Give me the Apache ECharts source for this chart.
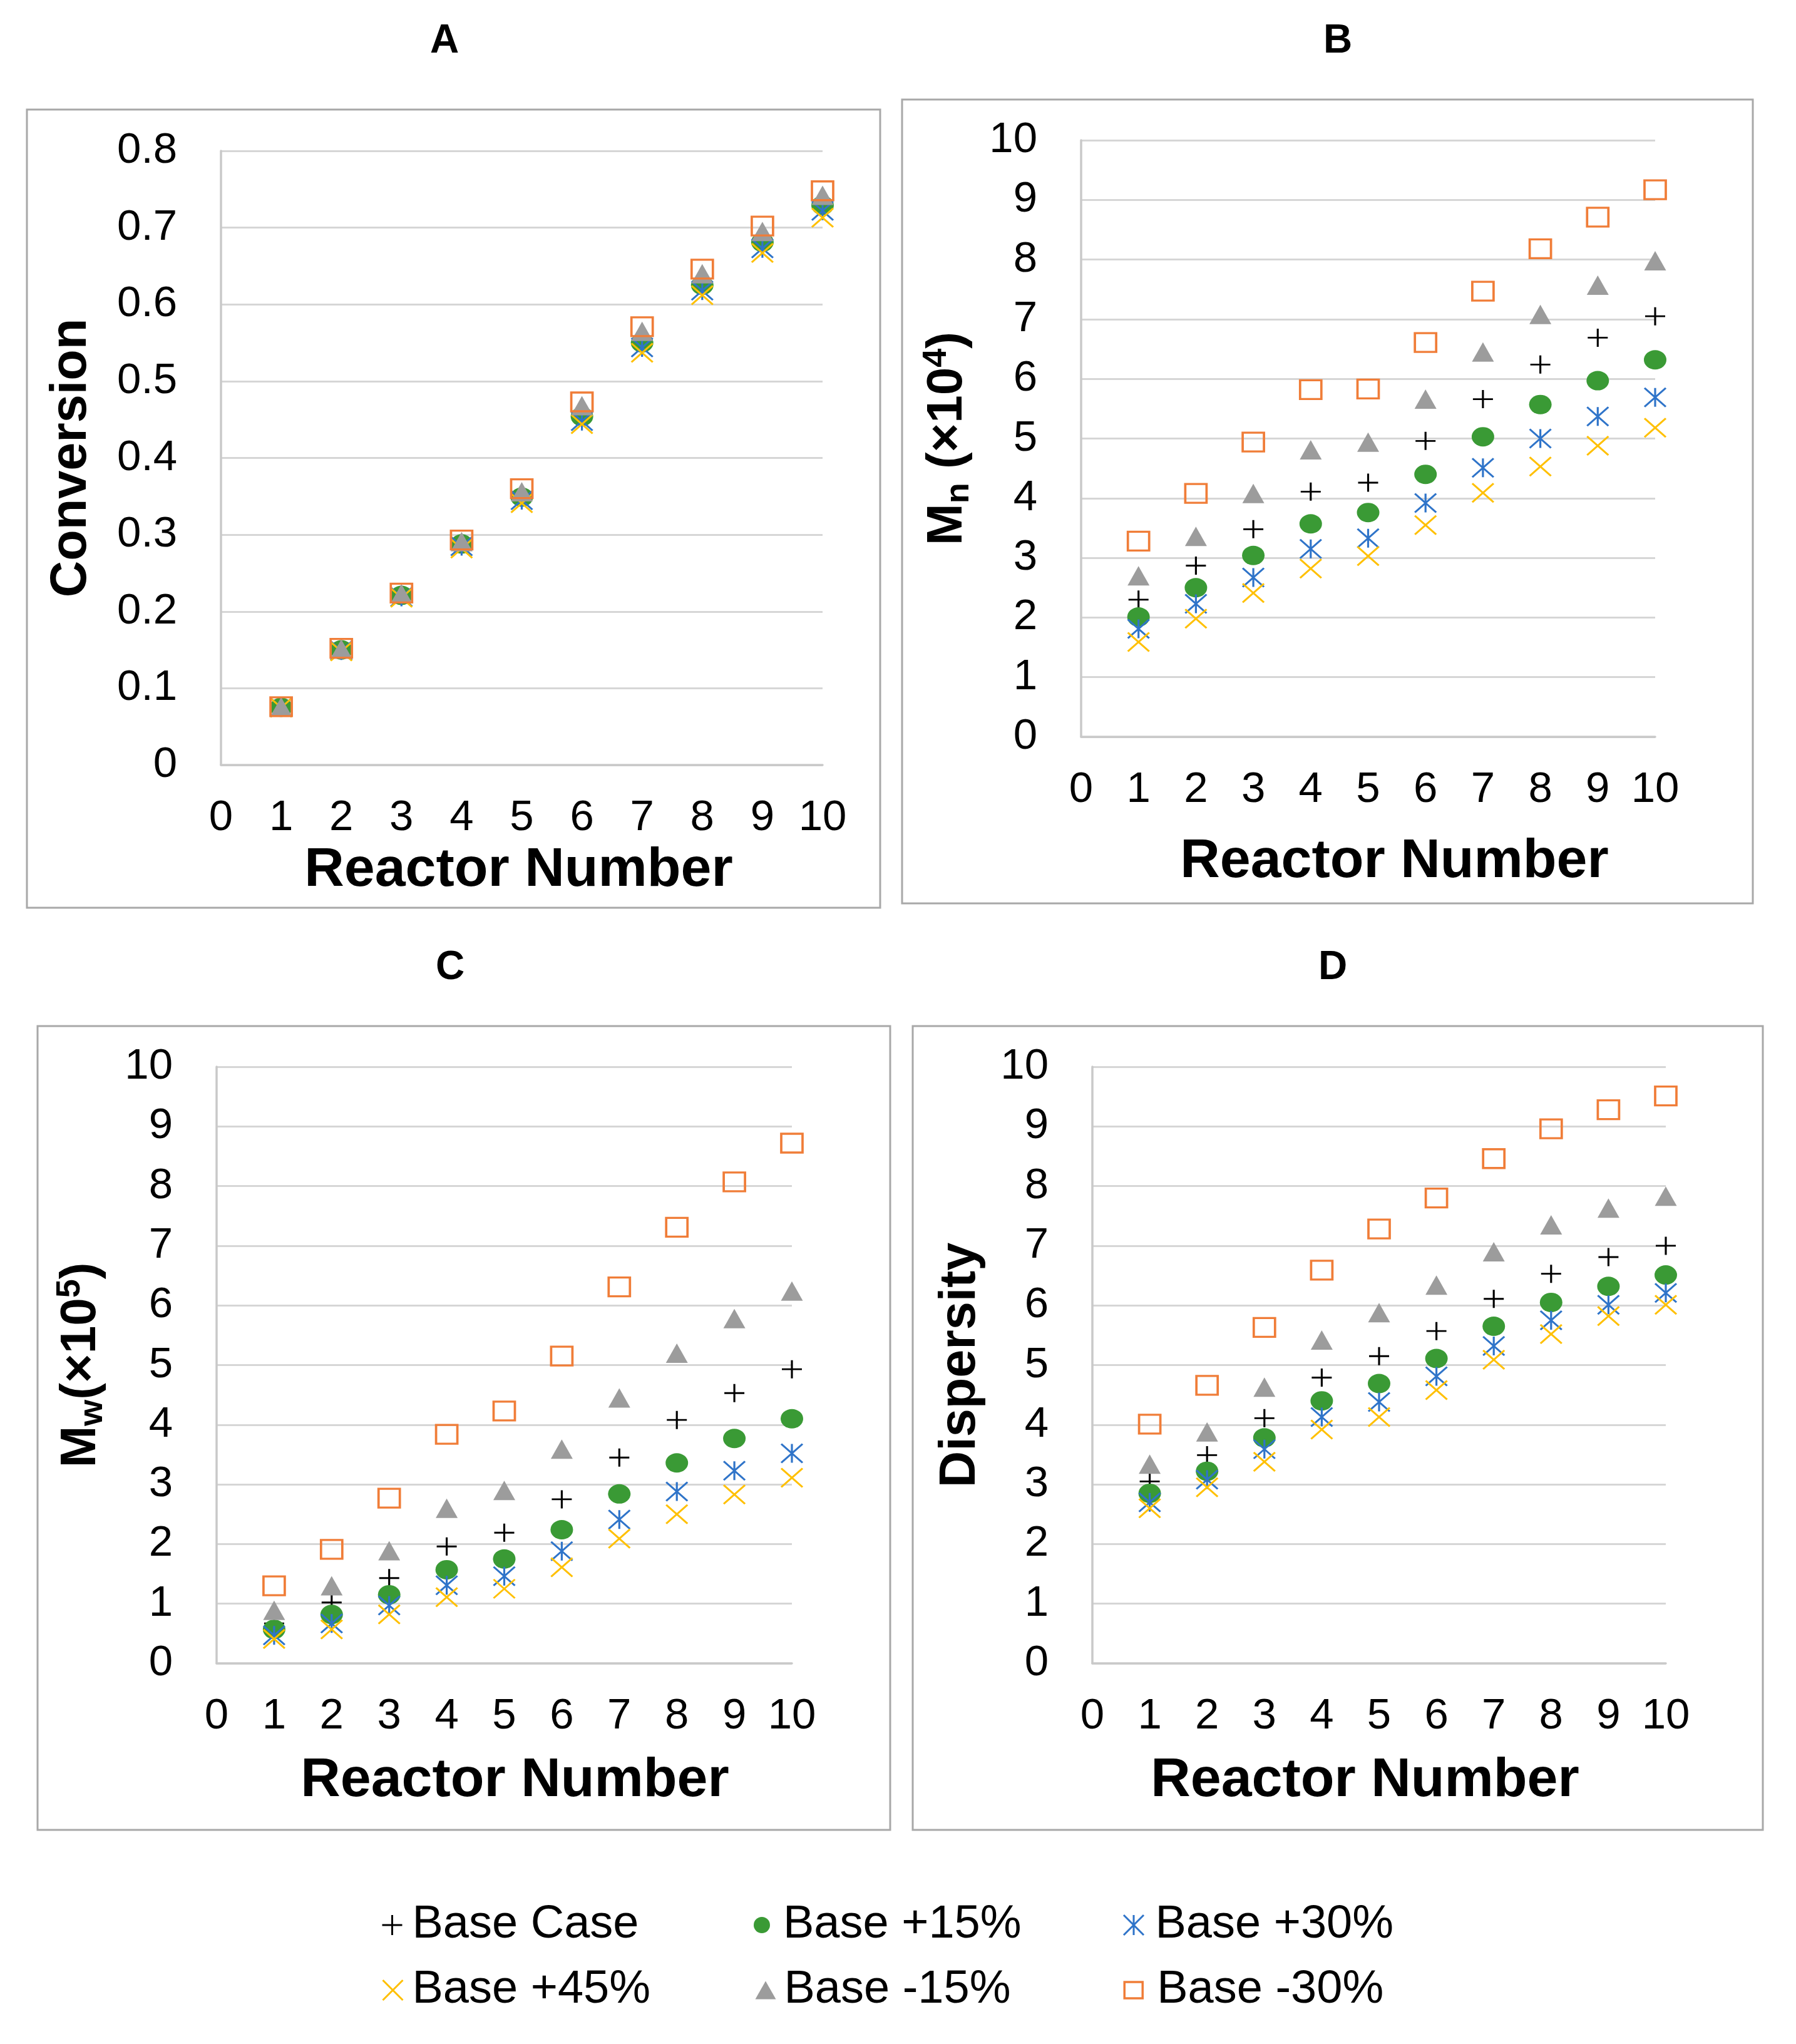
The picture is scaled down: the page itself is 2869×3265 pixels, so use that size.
<!DOCTYPE html>
<html>
<head>
<meta charset="utf-8">
<script src="https://cdn.jsdelivr.net/npm/echarts@6/dist/echarts.min.js"></script>
<style>html,body{margin:0;padding:0;background:#fff}#c{width:2869px;height:3265px}</style>
</head>
<body>
<div id="c"></div>
<script>
// ---------- data ----------
const reactors = [1, 2, 3, 4, 5, 6, 7, 8, 9, 10];
const seriesNames = ['Base Case', 'Base +15%', 'Base +30%', 'Base +45%', 'Base -15%', 'Base -30%'];
const panelLetters = ['A', 'B', 'C', 'D'];

// Panel A: Conversion
const convBase = [0.0755, 0.1505, 0.222, 0.289, 0.352, 0.458, 0.555, 0.630, 0.686, 0.733];
const convP15  = [0.0752, 0.150, 0.221, 0.288, 0.349, 0.454, 0.550, 0.625, 0.681, 0.729];
const convP30  = [0.0750, 0.149, 0.219, 0.285, 0.345, 0.448, 0.544, 0.618, 0.673, 0.722];
const convP45  = [0.0748, 0.148, 0.218, 0.282, 0.341, 0.444, 0.537, 0.612, 0.667, 0.713];
const convM15  = [0.0758, 0.151, 0.223, 0.291, 0.356, 0.468, 0.565, 0.640, 0.695, 0.742];
const convM30  = [0.0760, 0.152, 0.224, 0.293, 0.360, 0.473, 0.571, 0.646, 0.702, 0.748];

// Panel B: Mn (x10^4)
const mnBase = [2.30, 2.87, 3.48, 4.11, 4.26, 4.96, 5.66, 6.24, 6.69, 7.05];
const mnP15  = [2.01, 2.50, 3.04, 3.57, 3.76, 4.40, 5.03, 5.57, 5.97, 6.32];
const mnP30  = [1.81, 2.23, 2.67, 3.15, 3.33, 3.92, 4.51, 5.00, 5.37, 5.69];
const mnP45  = [1.59, 1.98, 2.41, 2.82, 3.03, 3.55, 4.09, 4.53, 4.88, 5.18];
const mnM15  = [2.70, 3.36, 4.08, 4.81, 4.94, 5.66, 6.45, 7.08, 7.57, 7.98];
const mnM30  = [3.28, 4.08, 4.94, 5.82, 5.83, 6.61, 7.47, 8.18, 8.71, 9.17];

// Panel C: Mw (x10^5)
const mwBase = [0.67, 1.02, 1.43, 1.96, 2.19, 2.75, 3.45, 4.08, 4.53, 4.93];
const mwP15  = [0.57, 0.82, 1.15, 1.57, 1.75, 2.24, 2.84, 3.36, 3.77, 4.10];
const mwP30  = [0.47, 0.67, 0.97, 1.31, 1.46, 1.88, 2.41, 2.88, 3.23, 3.52];
const mwP45  = [0.41, 0.57, 0.82, 1.11, 1.25, 1.61, 2.09, 2.50, 2.83, 3.11];
const mwM15  = [0.89, 1.30, 1.89, 2.60, 2.90, 3.59, 4.45, 5.20, 5.78, 6.24];
const mwM30  = [1.30, 1.91, 2.77, 3.84, 4.23, 5.15, 6.31, 7.31, 8.07, 8.72];

// Panel D: Dispersity
const dispBase = [3.05, 3.49, 4.11, 4.79, 5.15, 5.57, 6.11, 6.53, 6.81, 7.00];
const dispP15  = [2.85, 3.22, 3.78, 4.40, 4.69, 5.11, 5.65, 6.05, 6.32, 6.51];
const dispP30  = [2.70, 3.08, 3.59, 4.13, 4.38, 4.81, 5.32, 5.75, 6.01, 6.21];
const dispP45  = [2.60, 2.95, 3.38, 3.92, 4.13, 4.58, 5.09, 5.52, 5.82, 6.01];
const dispM15  = [3.34, 3.88, 4.63, 5.42, 5.88, 6.34, 6.90, 7.35, 7.63, 7.83];
const dispM30  = [4.01, 4.66, 5.63, 6.59, 7.28, 7.80, 8.46, 8.96, 9.28, 9.51];

const xAxisTitle = 'Reactor Number';
const yAxisTitles = [
  'Conversion',
  '{m|M}{s|n}{m| (×10}{p|4}{m|)}',
  '{m|M}{s|w}{m|(×10}{p|5}{m|)}',
  'Dispersity'
];

// ---------- styling ----------
const FONT = '"Liberation Sans", Arial, Helvetica, sans-serif';
const PLUS = 'path://M0,5L10,5M5,0L5,10';
const CROSS = 'path://M0,0L10,10M10,0L0,10';
const STAR = 'path://M0,0L10,10M10,0L0,10M5,0L5,10';

const markerStyles = [
  { symbol: PLUS, size: [32, 29], itemStyle: { color: '#000000', borderColor: '#000000', borderWidth: 3, opacity: 1 } },
  { symbol: 'circle', size: [36, 31], itemStyle: { color: '#3A9A35', opacity: 1 } },
  { symbol: STAR, size: [34, 30], itemStyle: { color: '#2F74C9', borderColor: '#2F74C9', borderWidth: 3, opacity: 1 } },
  { symbol: CROSS, size: [34, 30], itemStyle: { color: '#FFC000', borderColor: '#FFC000', borderWidth: 3, opacity: 1 } },
  { symbol: 'triangle', size: [35, 31], itemStyle: { color: '#9C9C9C', opacity: 1 } },
  { symbol: 'rect', size: [34, 30], itemStyle: { color: 'rgba(255,255,255,0)', borderColor: '#F07D38', borderWidth: 3.5, opacity: 1 } }
];

const panelData = [
  [convBase, convP15, convP30, convP45, convM15, convM30],
  [mnBase, mnP15, mnP30, mnP45, mnM15, mnM30],
  [mwBase, mwP15, mwP30, mwP45, mwM15, mwM30],
  [dispBase, dispP15, dispP30, dispP45, dispM15, dispM30]
];
const yScales = [
  { max: 0.8, interval: 0.1 },
  { max: 10, interval: 1 },
  { max: 10, interval: 1 },
  { max: 10, interval: 1 }
];

const grids = [
  { left: 353, top: 241, width: 961, height: 981 },
  { left: 1727, top: 224, width: 917, height: 953 },
  { left: 346, top: 1704, width: 919, height: 953 },
  { left: 1745, top: 1704, width: 916, height: 953 }
];
const xNameGap = [125, 156, 144, 144];
const xNamePad = [[0, 10, 0, 0], [0, 0, 0, 84], [0, 0, 0, 34], [0, 45, 0, 0]];
const yNameGap = [198, 168, 171, 170];
const frames = [
  [43, 175, 1363, 1275],
  [1441, 159, 1359, 1284],
  [60, 1639, 1362, 1284],
  [1458, 1639, 1358, 1284]
];
const titlePos = [[710, 66], [2137, 66], [719, 1546], [2129, 1546]];

const richName = {
  m: { fontSize: 80, fontWeight: 'bold', fontFamily: FONT, color: '#000', lineHeight: 90 },
  s: { fontSize: 54, fontWeight: 'bold', fontFamily: FONT, color: '#000', lineHeight: 54, verticalAlign: 'bottom' },
  p: { fontSize: 54, fontWeight: 'bold', fontFamily: FONT, color: '#000', lineHeight: 54, verticalAlign: 'top' }
};

const xAxes = [], yAxes = [], series = [];
for (let g = 0; g < 4; g++) {
  xAxes.push({
    type: 'value', gridIndex: g, min: 0, max: 10, interval: 1,
    name: xAxisTitle, nameLocation: 'middle', nameGap: xNameGap[g],
    nameTextStyle: { fontSize: 88, fontWeight: 'bold', fontFamily: FONT, color: '#000', padding: xNamePad[g] },
    axisLine: { show: true, lineStyle: { color: '#C9C9C9', width: 3.5 } },
    axisTick: { show: false },
    splitLine: { show: false },
    axisLabel: { fontSize: 69, fontFamily: FONT, color: '#000', margin: 50 }
  });
  yAxes.push({
    type: 'value', gridIndex: g, min: 0, max: yScales[g].max, interval: yScales[g].interval,
    name: yAxisTitles[g], nameLocation: 'middle', nameRotate: 90, nameGap: yNameGap[g],
    nameTextStyle: { fontSize: 81, fontWeight: 'bold', fontFamily: FONT, color: '#000', rich: richName },
    axisLine: { show: true, lineStyle: { color: '#C9C9C9', width: 3.5 } },
    axisTick: { show: false },
    splitLine: { show: true, lineStyle: { color: '#D6D6D6', width: 3 } },
    axisLabel: { fontSize: 69, fontFamily: FONT, color: '#000', margin: 70 }
  });
  for (let s = 0; s < 6; s++) {
    const vals = panelData[g][s];
    series.push({
      type: 'scatter', name: seriesNames[s], xAxisIndex: g, yAxisIndex: g,
      data: reactors.map((r, i) => [r, vals[i]]),
      symbol: markerStyles[s].symbol, symbolSize: markerStyles[s].size,
      itemStyle: markerStyles[s].itemStyle,
      emphasis: { disabled: true }, z: 2 + s
    });
  }
}

// legend: one component per entry, laid out in 2 rows x 3 columns
const legendCells = [
  { s: 0, cx: 627, cy: 3075, w: 36, h: 32, pad: 9 },
  { s: 1, cx: 1219, cy: 3075, w: 30, h: 26, pad: 14 },
  { s: 2, cx: 1812, cy: 3075, w: 37, h: 32, pad: 11 },
  { s: 3, cx: 628, cy: 3179, w: 36, h: 32, pad: 8 },
  { s: 4, cx: 1223, cy: 3179, w: 33, h: 29, pad: 8 },
  { s: 5, cx: 1809, cy: 3179, w: 29, h: 26, pad: 18 }
];
const legends = legendCells.map(c => {
  const m = markerStyles[c.s];
  return {
    data: [{ name: seriesNames[c.s], icon: m.symbol, itemStyle: Object.assign({ borderWidth: 0 }, m.itemStyle) }],
    left: c.cx - c.w / 2, top: c.cy - 37, padding: 0,
    itemWidth: c.w, itemHeight: c.h, selectedMode: false,
    textStyle: { fontSize: 74, fontFamily: FONT, color: '#000', padding: [0, 0, 0, c.pad] }
  };
});

const titles = panelLetters.map((t, i) => ({
  text: t, left: titlePos[i][0], top: titlePos[i][1] - 32, padding: 0,
  textAlign: 'center', textVerticalAlign: 'top',
  textStyle: { fontSize: 64, fontWeight: 'bold', fontFamily: FONT, color: '#000' }
}));

const graphics = frames.map(f => ({
  type: 'rect', silent: true, z: -10,
  shape: { x: f[0], y: f[1], width: f[2], height: f[3] },
  style: { fill: 'none', stroke: '#A8A8A8', lineWidth: 3 }
}));

const chart = echarts.init(document.getElementById('c'), null, { renderer: 'canvas', width: 2869, height: 3265 });
chart.setOption({
  backgroundColor: '#ffffff',
  animation: false,
  title: titles,
  legend: legends,
  grid: grids,
  xAxis: xAxes,
  yAxis: yAxes,
  series: series,
  graphic: { elements: graphics }
});
</script>
</body>
</html>
